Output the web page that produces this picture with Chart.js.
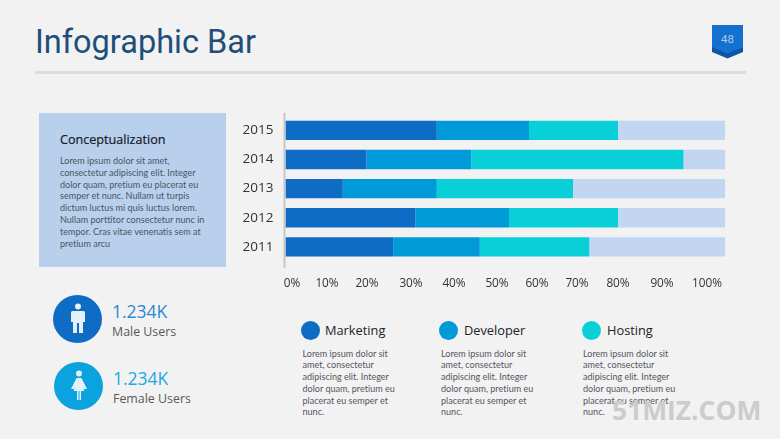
<!DOCTYPE html>
<html><head><meta charset="utf-8">
<script src="https://cdn.jsdelivr.net/npm/chart.js@4"></script>
<style>
html,body{margin:0;padding:0;background:#f2f2f2;width:780px;height:439px;overflow:hidden}
body{position:relative;font-family:"Open Sans",sans-serif}
.a{position:absolute;white-space:nowrap}
.body{font-family:"Lato",sans-serif;font-size:9.05px;line-height:11.8px;color:#55555f;font-variant-ligatures:none}
.c{position:absolute;border-radius:50%}
</style></head><body>
<div class="a" style="left:35px;top:22px;font:32.5px/40px Roboto;color:#1f4e79" id="title">Infographic Bar</div>
<div class="a" style="left:35px;top:71px;width:711px;height:3px;background:#dcdcdc"></div>
<svg class="a" style="left:711px;top:24px" width="33" height="36">
<path d="M1 1H32V28L16.500 34.500L1 28Z" fill="#0d56a6"/><path d="M1 1H32V23L16.500 29.500L1 23Z" fill="#1471d0"/>
<text x="16.500" y="18.500" text-anchor="middle" font-family="Roboto" font-size="11.500" fill="#a9c9ee">48</text></svg>

<div class="a" style="left:39px;top:113px;width:187px;height:154px;background:#b8d0ec"></div>
<div class="a" style="left:60px;top:131px;font:400 12.6px/18px 'Open Sans';color:#14192a;-webkit-text-stroke:0.2px #14192a">Conceptualization</div>
<div class="a body" style="left:60px;top:155px;color:#4a5563">Lorem ipsum dolor sit amet,<br>consectetur adipiscing elit. Integer<br>dolor quam, pretium eu placerat eu<br>semper et nunc. Nullam ut turpis<br>dictum luctus mi quis luctus lorem.<br>Nullam porttitor consectetur nunc in<br>tempor. Cras vitae venenatis sem at<br>pretium arcu</div>

<div style="position:absolute;left:230px;top:100px;width:510px;height:200px"><canvas id="c" width="510" height="200"></canvas></div>

<div class="c" style="left:53px;top:295px;width:49px;height:48px;background:#0f6cc4"></div>
<svg class="a" style="left:68px;top:303px" width="20" height="32" fill="#e4f1fb"><circle cx="10" cy="3.500" r="3"/><path d="M4.500 8H15.500Q17 8 17 9.500V19H15V30H11V20H9V30H5V19H3V9.500Q3 8 4.500 8Z"/></svg>
<div class="a" style="left:112px;top:299px;font:17.500px/24px 'Open Sans';color:#2e86d6">1.234K</div>
<div class="a" style="left:112px;top:322px;font:12.4px/19px 'Open Sans';color:#595959">Male Users</div>
<div class="c" style="left:54px;top:362px;width:49px;height:48px;background:#0ba3de"></div>
<svg class="a" style="left:69px;top:370px" width="20" height="32" fill="#e4f1fb"><circle cx="10" cy="3.500" r="3"/><path d="M7.500 8H12.500L18 19H14.500L15.500 21H12V30H10.500V21H9.500V30H8V21H4.500L5.500 19H2Z"/></svg>
<div class="a" style="left:113px;top:366px;font:17.500px/24px 'Open Sans';color:#1ba9e0">1.234K</div>
<div class="a" style="left:113px;top:389px;font:12.4px/19px 'Open Sans';color:#595959">Female Users</div>

<div id="legend"></div>
<div class="a" style="left:612px;top:393px;font:700 26.4px/34px 'Open Sans';color:#cccccc">51MIZ.COM</div>

<script>
const categories = ["2015", "2014", "2013", "2012", "2011"];
const marketing = [36, 20, 14, 31, 26];
const developer = [22, 24, 22, 22, 20];
const hosting = [22, 51, 33, 27, 27];
const remainder = [20, 5, 31, 20, 27];
const tickLabels = ["0%","10%","20%","30%","40%","50%","60%","70%","80%","90%","100%"];
const seriesNames = ["Marketing", "Developer", "Hosting"];
const seriesColors = ["#0f6cc4", "#009ad9", "#09cfd9"];
const remainderColor = "#c2d6f1";

// The picture's axis is hand-spaced: these are the pixel anchors it uses.
const plotLeft = 55.5, pageLeft = 230;
const tickCentres = [292,327,367,411,454,497,537,577,618,662,707];
const barAnchors = [[0,285.5],[10,327],[20,366.5],[30,411],[40,454],[50,497],[60,537],[70,577],[80,618],[90,662],[95,683.500],[100,725]];

class AnchoredScale extends Chart.LinearScale {
  static id = "anchored";
  static defaults = Chart.LinearScale.defaults;
  getPixelForValue(v) {
    if (v === null || v === undefined) return NaN;
    for (let i = 1; i < barAnchors.length; i++) {
      const [v0, p0] = barAnchors[i-1], [v1, p1] = barAnchors[i];
      if (v <= v1) return p0 + (v - v0) / (v1 - v0) * (p1 - p0) - pageLeft;
    }
    return barAnchors[barAnchors.length-1][1] - pageLeft;
  }
  getPixelForTick(i) { return tickCentres[i] - pageLeft; }
}
Chart.register(AnchoredScale);

const axisLine = {
  id: "axisLine",
  afterDatasetsDraw(chart) {
    const g = chart.ctx;
    g.save(); g.fillStyle = "#c6c6c6";
    g.fillRect(chart.chartArea.left - 2, 13, 2, 155);
    g.restore();
  }
};

const allSeries = [marketing, developer, hosting, remainder];
new Chart(document.getElementById("c"), {
  type: "bar",
  data: {
    labels: categories,
    datasets: allSeries.map((d, i) => ({
      label: seriesNames[i] || "Remainder",
      data: d,
      backgroundColor: seriesColors[i] || remainderColor,
      borderWidth: 0,
      clip: false,
      categoryPercentage: 1,
      barPercentage: 0.665
    }))
  },
  plugins: [axisLine],
  options: {
    indexAxis: "y",
    responsive: false,
    animation: false,
    events: [],
    layout: { padding: { top: 15.8, right: 15, left: 0, bottom: 0 } },
    plugins: { legend: { display: false }, tooltip: { enabled: false }, title: { display: false } },
    scales: {
      x: {
        type: "anchored", stacked: true, min: 0, max: 100,
        grid: { display: false, drawTicks: false }, border: { display: false },
        ticks: { stepSize: 10, autoSkip: false, maxRotation: 0, padding: 15, color: "#333333",
          font: { family: "Open Sans", size: 11.800 },
          callback: (v) => tickLabels[v / 10] },
        afterFit(s) { s.height = 38.5; s.paddingLeft = 0; s.paddingRight = 0; }
      },
      y: {
        stacked: true,
        grid: { display: false, drawTicks: false }, border: { display: false },
        ticks: { padding: 12, color: "#333333", font: { family: "Open Sans", size: 13.500 } },
        afterFit(s) { s.width = plotLeft; s.paddingTop = 0; s.paddingBottom = 0; }
      }
    }
  }
});

const loremLines = ["Lorem ipsum dolor sit","amet, consectetur","adipiscing elit. Integer","dolor quam, pretium eu","placerat eu semper et","nunc."];
const legendCircle = [310, 448, 591], legendText = [325, 464, 607], legendBody = [302.5, 441, 583];
document.getElementById("legend").innerHTML = seriesNames.map((n, i) =>
  `<div class="c" style="left:${legendCircle[i]-9.5}px;top:320.500px;width:19px;height:19px;background:${seriesColors[i]}"></div>`+
  `<div class="a" style="left:${legendText[i]}px;top:320px;font:12.8px/20px 'Open Sans';color:#222">${n}</div>`+
  `<div class="a body" style="left:${legendBody[i]}px;top:347.500px">${loremLines.join("<br>")}</div>`).join("");
</script>
</body></html>
